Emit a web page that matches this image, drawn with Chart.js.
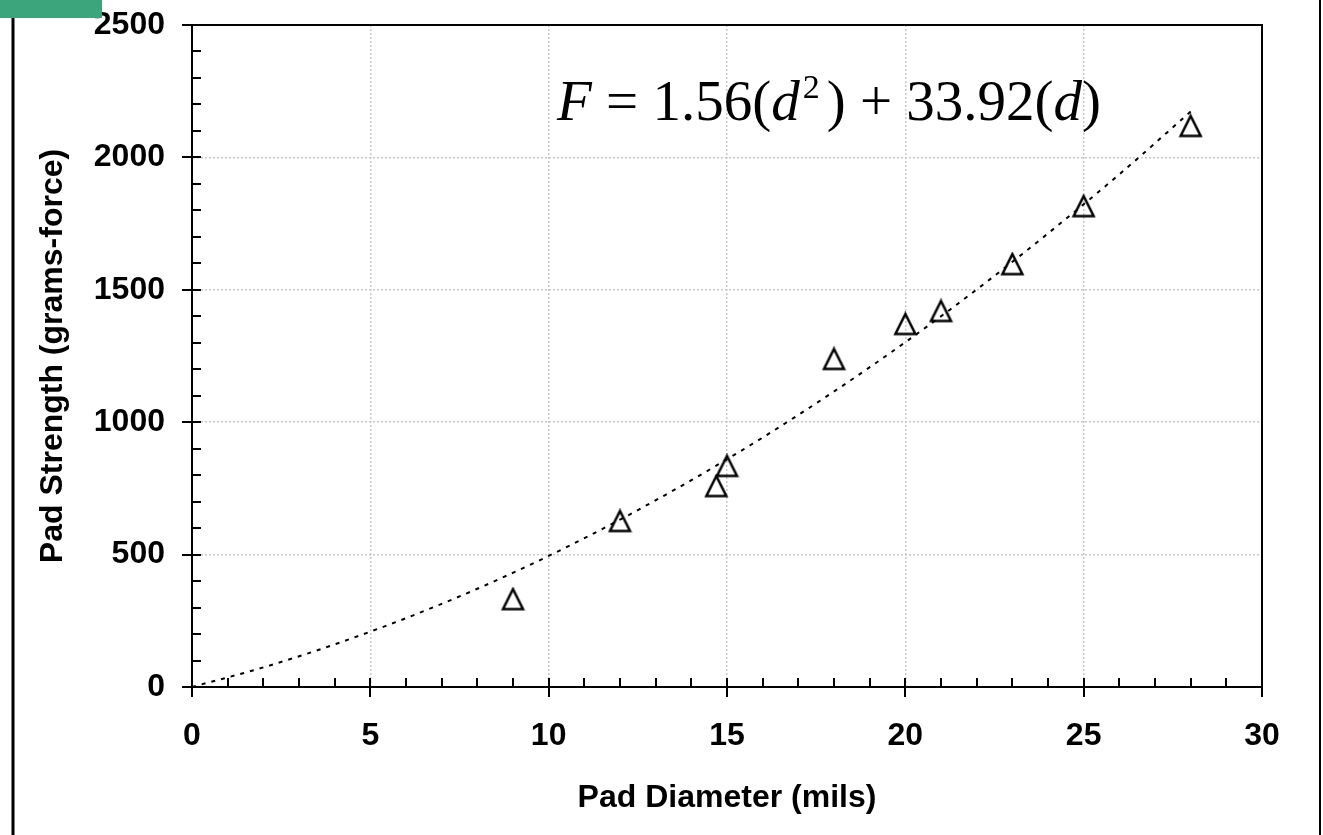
<!DOCTYPE html>
<html lang="en">
<head>
<meta charset="UTF-8">
<title>Pad Strength vs Pad Diameter</title>
<script src="https://cdn.jsdelivr.net/npm/chart.js"></script>
<style>
  html, body { margin: 0; padding: 0; background: #fff; }
  #wrap { width: 1323px; height: 835px; }
</style>
</head>
<body>
<div id="wrap"><canvas id="chart" width="1323" height="835"></canvas></div>
<script>
// measured pad strengths
const padDiameter = [9, 12, 14.7, 15, 18, 20, 21, 23, 25, 28];
const padStrength = [332, 627, 759, 835, 1239, 1371, 1420, 1597, 1816, 2119];

// dotted trend line
const fitDiameter = [0, 2, 4, 6, 8, 10, 12, 14, 16, 18, 20, 22, 24, 26, 28];
const fitStrength = [0, 74, 161, 260, 371, 495, 632, 781, 942, 1116, 1302, 1501, 1713, 1936, 2173];

const xTicks = [0, 5, 10, 15, 20, 25, 30];
const yTicks = [0, 500, 1000, 1500, 2000, 2500];

const equation = [
  { t: 'F', it: true },
  { t: ' = 1.56(' },
  { t: 'd', it: true },
  { t: '2', sup: true },
  { t: ') + 33.92(' },
  { t: 'd', it: true },
  { t: ')' }
];

// open triangle marker, a bit taller than Chart.js' own
function triangleMarker(size, lw) {
  const c = document.createElement('canvas');
  c.width = size + lw * 2;
  c.height = size + lw * 2;
  const g = c.getContext('2d');
  g.strokeStyle = '#000';
  g.lineWidth = lw;
  g.lineJoin = 'miter';
  g.beginPath();
  g.moveTo(c.width / 2, lw);
  g.lineTo(c.width - lw, c.height - lw);
  g.lineTo(lw, c.height - lw);
  g.closePath();
  g.stroke();
  return c;
}

const decor = {
  id: 'decor',
  beforeDraw(chart) {
    const ctx = chart.ctx;
    ctx.save();
    ctx.fillStyle = '#fff';
    ctx.fillRect(0, 0, chart.width, chart.height);
    ctx.restore();
  },
  afterDraw(chart) {
    const { ctx, chartArea: a, scales: { x, y } } = chart;
    ctx.save();
    ctx.strokeStyle = '#000';
    ctx.lineWidth = 2;

    // top and right edge of the plot
    ctx.beginPath();
    ctx.moveTo(a.left, a.top);
    ctx.lineTo(a.right, a.top);
    ctx.lineTo(a.right, a.bottom);
    ctx.stroke();

    // minor / major tick marks
    ctx.beginPath();
    for (let v = x.min; v <= x.max; v += 1) {
      const px = Math.round(x.getPixelForValue(v));
      ctx.moveTo(px, a.bottom - 9);
      ctx.lineTo(px, a.bottom + (v % 5 === 0 ? 10 : 0));
    }
    for (let v = y.min; v <= y.max; v += 100) {
      const py = Math.round(y.getPixelForValue(v));
      ctx.moveTo(a.left - (v % 500 === 0 ? 10 : 0), py);
      ctx.lineTo(a.left + 9, py);
    }
    ctx.stroke();

    // outer frame lines + green tab
    ctx.lineWidth = 3;
    ctx.beginPath();
    ctx.moveTo(13, 18); ctx.lineTo(13, chart.height);
    ctx.stroke();
    ctx.lineWidth = 2;
    ctx.beginPath();
    ctx.moveTo(1320, 0); ctx.lineTo(1320, chart.height);
    ctx.stroke();
    ctx.fillStyle = '#3da57b';
    ctx.fillRect(0, 0, 102, 18);

    // fitted equation
    ctx.fillStyle = '#000';
    ctx.textBaseline = 'alphabetic';
    let ex = a.left + 365;
    const base = a.top + 95;
    equation.forEach(s => {
      if (s.sup) {
        ctx.font = '34px "Liberation Serif", "Times New Roman", serif';
        ctx.fillText(s.t, ex + 3, base - 22);
        ex += ctx.measureText(s.t).width + 10;
      } else {
        ctx.font = (s.it ? 'italic ' : '') + '57px "Liberation Serif", "Times New Roman", serif';
        ctx.fillText(s.t, ex, base);
        ex += ctx.measureText(s.t).width;
      }
    });
    ctx.restore();
  }
};

const tickFont = { family: '"Liberation Sans", Arial, sans-serif', size: 32, weight: 'bold' };

new Chart(document.getElementById('chart'), {
  type: 'scatter',
  data: {
    datasets: [
      {
        label: 'Fit',
        data: fitDiameter.map((d, i) => ({ x: d, y: fitStrength[i] })),
        showLine: true,
        borderColor: '#000',
        borderWidth: 2,
        borderDash: [4, 6],
        pointRadius: 0,
        cubicInterpolationMode: 'monotone',
        fill: false
      },
      {
        label: 'Pad strength',
        data: padDiameter.map((d, i) => ({ x: d, y: padStrength[i] })),
        pointStyle: triangleMarker(20, 2.5),
        pointRadius: 11,
        pointHoverRadius: 11
      }
    ]
  },
  options: {
    responsive: false,
    animation: false,
    layout: { padding: { left: 0, right: 61, top: 25, bottom: 0 } },
    plugins: { legend: { display: false }, tooltip: { enabled: false } },
    scales: {
      x: {
        type: 'linear',
        min: 0, max: 30,
        afterBuildTicks: s => { s.ticks = xTicks.map(v => ({ value: v })); },
        afterFit: s => { s.height = 148; s.paddingLeft = 0; s.paddingRight = 0; },
        ticks: { color: '#000', font: tickFont, padding: 30, maxRotation: 0, callback: v => String(v) },
        grid: { color: '#c8c8c8', lineWidth: 1.5, drawTicks: false },
        border: { color: '#000', width: 2, dash: [2, 2] },
        title: {
          display: true, text: 'Pad Diameter (mils)', color: '#000',
          font: tickFont, padding: { top: 0, bottom: 18 }
        }
      },
      y: {
        type: 'linear',
        min: 0, max: 2500,
        afterBuildTicks: s => { s.ticks = yTicks.map(v => ({ value: v })); },
        afterFit: s => { s.width = 192; s.paddingTop = 0; s.paddingBottom = 0; },
        ticks: { color: '#000', font: tickFont, padding: 27, callback: v => String(v) },
        grid: { color: '#c8c8c8', lineWidth: 1.5, drawTicks: false },
        border: { color: '#000', width: 2, dash: [2, 2] },
        title: {
          display: true, text: 'Pad Strength (grams-force)', color: '#000',
          font: tickFont, padding: { top: 34, bottom: 0 }
        }
      }
    }
  },
  plugins: [decor]
});
</script>
</body>
</html>
